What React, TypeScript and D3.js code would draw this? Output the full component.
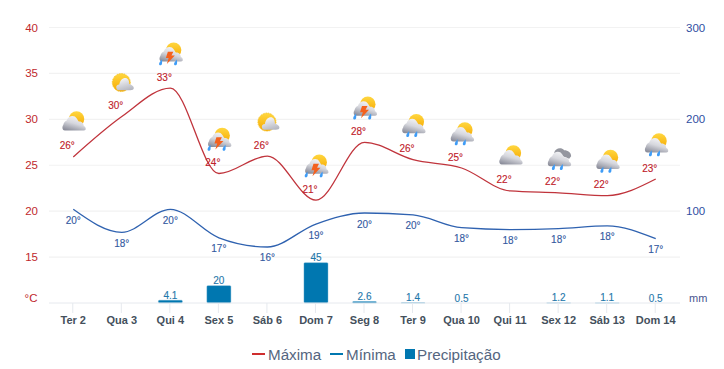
import React from "react";
import * as d3 from "d3";

const categories = ["Ter 2","Qua 3","Qui 4","Sex 5","Sáb 6","Dom 7","Seg 8","Ter 9","Qua 10","Qui 11","Sex 12","Sáb 13","Dom 14"];
const maxValues = [25.9,30.3,33.4,24.1,26,21.2,27.5,25.6,24.7,22.2,22,21.7,23.5];
const minValues = [20.2,17.7,20.2,17.1,16.1,18.6,19.8,19.6,18.2,18,18.1,18.4,17];
const maxLabels = ["26°","30°","33°","24°","26°","21°","28°","26°","25°","22°","22°","22°","23°"];
const minLabels = ["20°","18°","20°","17°","16°","19°","20°","20°","18°","18°","18°","18°","17°"];
const precipValues = [0,0,4.1,20,0,45,2.6,1.4,0.5,0,1.2,1.1,0.5];
const precipLabels = ["","","4.1","20","","45","2.6","1.4","0.5","","1.2","1.1","0.5"];
const icons = ["partly","sun","storm","storm","sun","storm","storm","rain","rain","partly","overcast","rain","rain"];
const leftTicks = [15,20,25,30,35,40];
const rightTicks = [100,200,300];

const W = 724, H = 369;
const x0 = 49, x1 = 680, yTop = 27.5, yBase = 303;
const x = d3.scaleBand<string>().domain(categories).range([x0, x1]);
const cx = (c: string) => (x(c) as number) + x.bandwidth() / 2;
const yT = d3.scaleLinear().domain([10, 40]).range([yBase, yTop]);
const yP = d3.scaleLinear().domain([0, 300]).range([yBase, yTop]);
const lineOf = (vals: number[]) =>
  d3.line<number>().x((_, i) => cx(categories[i])).y(d => yT(d)).curve(d3.curveMonotoneX)(vals) as string;

const FONT = "'Liberation Sans', Arial, sans-serif";
const CLOUD = "M3 21.5 C0.5 21.5 0 18 1.5 16 C2 13.5 3.5 12 5 11.5 C6 7 12.5 5 15 9.5 C16 11 16.5 12 17 12.5 C20 12 22 14.5 22 17 C23.5 17.5 24 19 24 20 C24 21.5 22.5 21.5 21 21.5 Z";
const SMALL_CLOUD = "M6 17.5 C5.5 15.5 7 14 9 14 C9.5 10 12 7.3 15 7.3 C17.5 7.3 19 9.5 19 13.5 C21.5 14 23.5 16 23.5 17.5 C23.5 19 22 19.7 20 19.7 L8 19.7 C7 19.7 6.3 18.8 6 17.5 Z";
const DROP = "M1 0 C-0.2 1.5 -1.8 3.2 -1.8 4.6 C-1.8 6.4 0.7 6.4 1.1 4.6 C1.4 3.4 1.3 1.5 1 0 Z";
const BOLT = "M9 9.7 L14.5 9.7 L12.6 13.5 L16 13.5 L8 22 L9.8 16 L7 16 Z";

function Icon({ kind, cxp, cyp }: { kind: string; cxp: number; cyp: number }) {
  const t = `translate(${cxp - 12},${cyp - 12})`;
  if (kind === "sun") {
    return (
      <g transform={t}>
        <circle cx={11} cy={12} r={9} fill="url(#sunG)" stroke="#f7c21a" strokeWidth={1} strokeDasharray="1 0.8" />
        <path d={SMALL_CLOUD} fill="url(#cloudS)" />
      </g>
    );
  }
  const sun = kind !== "overcast";
  return (
    <g transform={t}>
      {sun && <circle cx={14.8} cy={8} r={7.7} fill="url(#sunG)" />}
      {kind === "overcast" && <path d="M7 6 C8 1.5 14 0 17 3.5 C21 3.5 24 6 24 9.5 L22 12 L12 8 Z" fill="#94969f" />}
      <path d={CLOUD} transform="translate(0,-2)" fill="url(#cloudG)" />
      {(kind === "rain" || kind === "overcast") && (
        <g fill="#3f9cf6">
          <path d={DROP} transform="translate(6.5,17.3)" />
          <path d={DROP} transform="translate(14.5,17.3)" />
        </g>
      )}
      {kind === "storm" && (
        <g>
          <g fill="#3f9cf6">
            <path d={DROP} transform="translate(2,17.3)" />
            <path d={DROP} transform="translate(17,17.3)" />
          </g>
          <path d={BOLT} fill="#f4611e" />
        </g>
      )}
    </g>
  );
}

export default function App() {
  return (
    <svg width={W} height={H} style={{ position: "absolute", left: 0, top: 0, fontFamily: FONT }}>
      <defs>
        <linearGradient id="sunG" x1="0" y1="0" x2="0" y2="1">
          <stop offset="0" stopColor="#ffd740" />
          <stop offset="1" stopColor="#f6a800" />
        </linearGradient>
        <linearGradient id="cloudG" x1="0.7" y1="0" x2="0.25" y2="1">
          <stop offset="0" stopColor="#f7f7f9" />
          <stop offset="0.5" stopColor="#d6d7dd" />
          <stop offset="1" stopColor="#8c8e9b" />
        </linearGradient>
        <linearGradient id="cloudS" x1="0.3" y1="0" x2="0.7" y2="1">
          <stop offset="0" stopColor="#f8f8fa" />
          <stop offset="1" stopColor="#b4b6c0" />
        </linearGradient>
      </defs>

      {leftTicks.map(t => (
        <line key={t} x1={x0} x2={x1} y1={yT(t)} y2={yT(t)} stroke="#f2f2f2" strokeWidth={1.2} />
      ))}

      {leftTicks.map(t => (
        <text key={t} x={38} y={yT(t) + 4} textAnchor="end" fontSize={11.5} fill="#c0282d">{t}</text>
      ))}
      <text x={37.5} y={302} textAnchor="end" fontSize={11.5} fill="#c0282d">°C</text>
      {rightTicks.map(t => (
        <text key={t} x={686} y={yP(t) + 4} fontSize={11.5} fill="#2f4fa2">{t}</text>
      ))}
      <text x={689} y={302} fontSize={11} fill="#4a5590">mm</text>

      {categories.map((c, i) => {
        const v = precipValues[i];
        if (v <= 0) return null;
        const w = 24;
        const top = yP(v) + 1;
        return (
          <rect key={c} x={cx(c) - w / 2} y={top} width={w} height={Math.max(0, yBase - top)} fill="#0077b0" stroke="#5fa9cf" strokeWidth={0.4} rx={1} />
        );
      })}
      <line x1={x0} x2={x1} y1={yBase} y2={yBase} stroke="#e6e9ee" strokeWidth={1} />
      {categories.map(c => (
        <line key={c} x1={cx(c) - 0.5} x2={cx(c) - 0.5} y1={yBase} y2={yBase + 10} stroke="#e6e9ee" />
      ))}

      <path d={lineOf(maxValues)} fill="none" stroke="#c0343c" strokeWidth={1.3} />
      <path d={lineOf(minValues)} fill="none" stroke="#2f62b0" strokeWidth={1.3} />

      {categories.map((c, i) => (
        <Icon key={c} kind={icons[i]} cxp={cx(c) + 0.5} cyp={yT(maxValues[i]) - 34} />
      ))}

      {categories.map((c, i) => (
        <text key={c} x={cx(c) - 6} y={yT(maxValues[i]) - 7.5} textAnchor="middle" fontSize={10} fill="#c0202a" stroke="#c0202a" strokeWidth={0.12}>{maxLabels[i]}</text>
      ))}
      {categories.map((c, i) => (
        <text key={c} x={cx(c)} y={yT(minValues[i]) + 14.5} textAnchor="middle" fontSize={10} fill="#33599f" stroke="#33599f" strokeWidth={0.12}>{minLabels[i]}</text>
      ))}
      {categories.map((c, i) => precipLabels[i] && (
        <text key={c} x={cx(c)} y={yP(precipValues[i]) - 0.5} textAnchor="middle" fontSize={10} fill="#1f78ab" stroke="#1f78ab" strokeWidth={0.12}>{precipLabels[i]}</text>
      ))}

      {categories.map(c => (
        <text key={c} x={cx(c)} y={324} textAnchor="middle" fontSize={11} fontWeight={700} fill="#44505c">{c}</text>
      ))}

      <line x1={252} x2={265} y1={354} y2={354} stroke="#cf2e2e" strokeWidth={2} />
      <text x={268} y={360} fontSize={15.2} fill="#556680">Máxima</text>
      <line x1={330} x2={343} y1={354} y2={354} stroke="#0077b0" strokeWidth={2} />
      <text x={346} y={360} fontSize={15.2} fill="#556680">Mínima</text>
      <rect x={405} y={349} width={10} height={10} fill="#0077b0" />
      <text x={417} y={360} fontSize={15.2} fill="#556680">Precipitação</text>
    </svg>
  );
}
